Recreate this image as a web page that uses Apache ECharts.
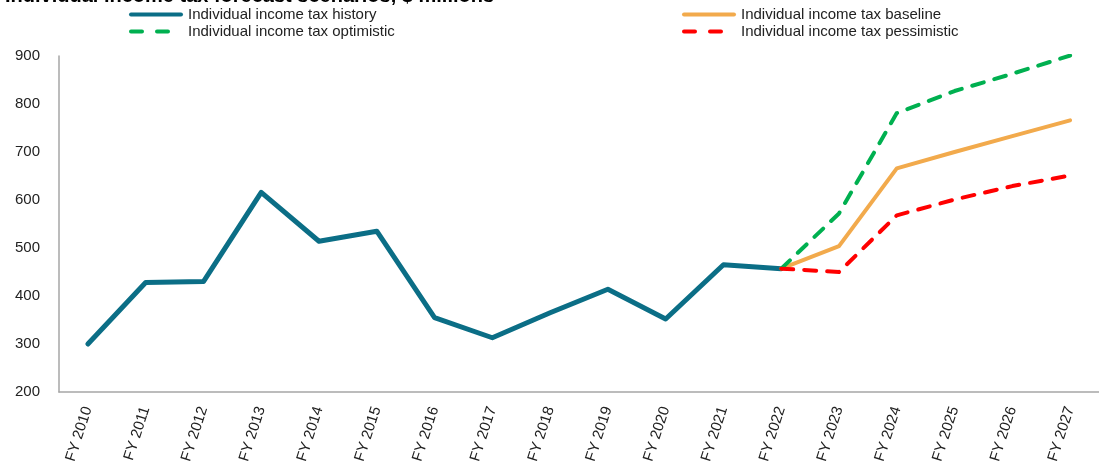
<!DOCTYPE html>
<html><head><meta charset="utf-8">
<script src="https://cdn.jsdelivr.net/npm/echarts@6/dist/echarts.min.js"></script>
<style>html,body{margin:0;padding:0;background:#fff}#c{width:1099px;height:467px}</style>
</head><body><div id="c"></div>
<script>
const categories = ['FY 2010','FY 2011','FY 2012','FY 2013','FY 2014','FY 2015','FY 2016','FY 2017','FY 2018','FY 2019','FY 2020','FY 2021','FY 2022','FY 2023','FY 2024','FY 2025','FY 2026','FY 2027'];
const history     = [300, 428, 430, 616, 514, 535, 355, 313, 365, 414, 352, 465, 457, null, null, null, null, null];
const baseline    = [null, null, null, null, null, null, null, null, null, null, null, null, 457, 504, 666, 700, 733, 766];
const optimistic  = [null, null, null, null, null, null, null, null, null, null, null, null, 457, 572, 781, 827, 863, 901];
const pessimistic = [null, null, null, null, null, null, null, null, null, null, null, null, 457, 450, 568, 601, 629, 651];
const titleText = 'Individual income tax forecast scenarios, $ millions';
const names = ['Individual income tax history', 'Individual income tax baseline', 'Individual income tax optimistic', 'Individual income tax pessimistic'];

const font = 'Arial, "Liberation Sans", sans-serif';
const solidIcon = 'path://M2,0H52A2,2 0 0 1 52,4H2A2,2 0 0 1 2,0Z';
const dashIcon = 'path://M2,0H13A2,2 0 0 1 13,4H2A2,2 0 0 1 2,0Z M28,0H39A2,2 0 0 1 39,4H28A2,2 0 0 1 28,0Z M53.9,1.9H54V2H53.9Z';
const legendText = {fontFamily: font, fontSize: 15, color: '#222', lineHeight: 15};
const chart = echarts.init(document.getElementById('c'), null, {renderer: 'canvas'});
chart.setOption({
  animation: false,
  backgroundColor: '#fff',
  title: {text: titleText, left: 0, top: -19, textStyle: {fontFamily: font, fontSize: 20, fontWeight: 'bold', color: '#000'}},
  legend: [
    {data: [{name: names[0], icon: solidIcon}, {name: names[2], icon: dashIcon}], orient: 'vertical', left: 124, top: 2, itemWidth: 54, itemHeight: 5, itemGap: 2, textStyle: legendText},
    {data: [{name: names[1], icon: solidIcon}, {name: names[3], icon: dashIcon}], orient: 'vertical', left: 677, top: 2, itemWidth: 54, itemHeight: 5, itemGap: 2, textStyle: legendText}
  ],
  grid: {left: 59, right: -5, top: 56, bottom: 75, containLabel: false},
  xAxis: {
    type: 'category', data: categories, boundaryGap: true,
    axisLine: {lineStyle: {color: '#A6A6A6', width: 1.5}},
    axisTick: {show: false},
    axisLabel: {rotate: 72, margin: 15, fontFamily: font, fontSize: 15, color: '#222', interval: 0}
  },
  yAxis: {
    type: 'value', min: 200, max: 900, interval: 100,
    axisLine: {show: true, lineStyle: {color: '#A6A6A6', width: 1.5}},
    axisTick: {show: false},
    splitLine: {show: false},
    axisLabel: {margin: 19, fontFamily: font, fontSize: 15, color: '#222'}
  },
  series: [
    {name: names[0], type: 'line', data: history, symbol: 'none',
     lineStyle: {color: '#0B6E86', width: 5, cap: 'round', join: 'round'}, itemStyle: {color: '#0B6E86'}},
    {name: names[1], type: 'line', data: baseline, symbol: 'none',
     lineStyle: {color: '#F2AA4C', width: 4, cap: 'round', join: 'round'}, itemStyle: {color: '#F2AA4C'}},
    {name: names[2], type: 'line', data: optimistic, symbol: 'none',
     lineStyle: {color: '#00B050', width: 4, type: [12, 11], cap: 'round', join: 'round'}, itemStyle: {color: '#00B050'}},
    {name: names[3], type: 'line', data: pessimistic, symbol: 'none',
     lineStyle: {color: '#FF0000', width: 4, type: [12, 11], cap: 'round', join: 'round'}, itemStyle: {color: '#FF0000'}}
  ]
});
</script></body></html>
